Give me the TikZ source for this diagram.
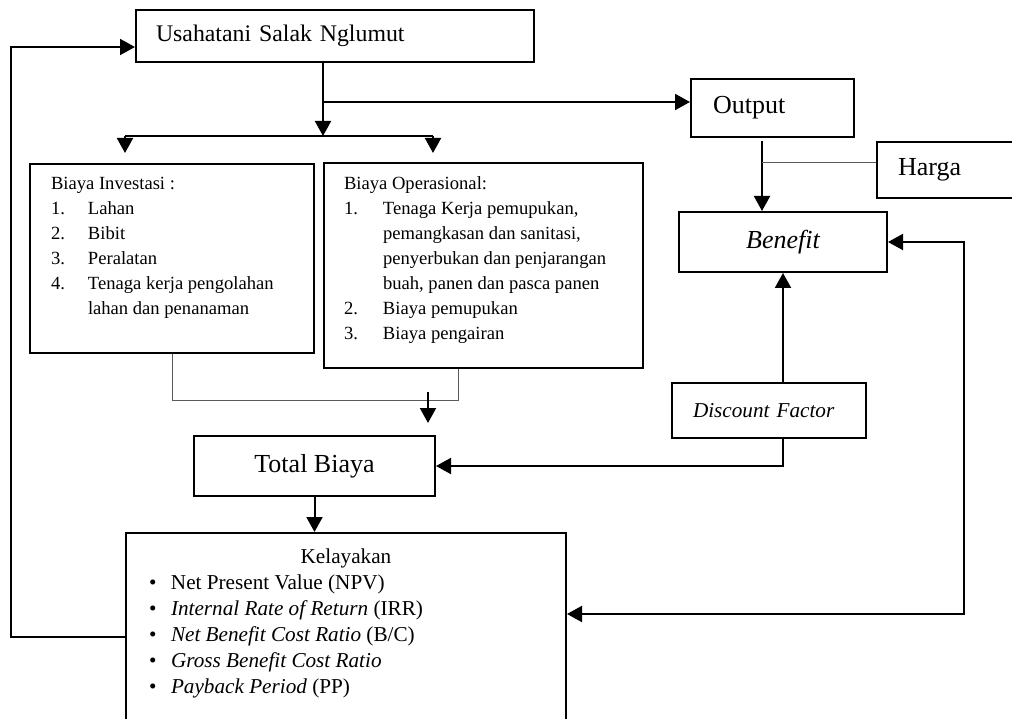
\documentclass[tikz,border=0pt]{standalone}
\usepackage{fontspec}
\setmainfont{Liberation Serif}
\usetikzlibrary{arrows.meta,positioning,calc}
\newcommand{\fsList}{\fontsize{18.6pt}{25pt}\selectfont}
\newcommand{\fsMid}{\fontsize{21.2pt}{26pt}\selectfont}
\newcommand{\fsTitle}{\fontsize{23.8pt}{28pt}\selectfont}
\newcommand{\fsBig}{\fontsize{26pt}{30pt}\selectfont}

\begin{document}
\begin{tikzpicture}[x=1pt,y=-1pt,>={Triangle[length=15pt,width=16pt]},
 box/.style={draw,line width=2pt,inner sep=0pt,anchor=north west},
 arr/.style={->,line width=2pt},
 ln/.style={line width=2pt},
 thinln/.style={line width=1pt,black!65}]
 \useasboundingbox (0,0) rectangle (1012,719);
 \node[box,minimum width=398pt,minimum height=52pt,text width=358pt,align=left,font=\fsTitle] (usaha) at (135,9) {Usahatani Salak Nglumut};
 \node[box,minimum width=163pt,minimum height=58pt,text width=119pt,align=left,font=\fsBig] (output) at (690,78) {Output};
 \node[box,minimum width=154pt,minimum height=56pt,text width=112pt,align=left,font=\fsBig] (harga) at (876,141) {Harga};
 \node[box,minimum width=208pt,minimum height=60pt,font=\fsBig\itshape] (benefit) at (678,211) {Benefit};
 \node[box,minimum width=284pt,minimum height=189pt,font=\fsList] (invest) at (29,163) {%
  \begin{tabular}{@{}p{37pt}@{}p{205pt}@{}}
  \multicolumn{2}{@{}l@{}}{Biaya Investasi :}\\
  1. & Lahan\\
  2. & Bibit\\
  3. & Peralatan\\
  4. & Tenaga kerja pengolahan\\
     & lahan dan penanaman\\[22pt]
  \end{tabular}};
 \node[box,minimum width=319pt,minimum height=205pt,font=\fsList] (oper) at (323,162) {%
  \begin{tabular}{@{}p{39pt}@{}p{240pt}@{}}
  \multicolumn{2}{@{}l@{}}{Biaya Operasional:}\\
  1. & Tenaga Kerja pemupukan,\\
     & pemangkasan dan sanitasi,\\
     & penyerbukan dan penjarangan\\
     & buah, panen dan pasca panen\\
  2. & Biaya pemupukan\\
  3. & Biaya pengairan\\[11pt]
  \end{tabular}};
 \node[box,minimum width=194pt,minimum height=55pt,text width=152pt,align=left,font=\fsMid\itshape] (disc) at (671,382) {Discount Factor};
 \node[box,minimum width=241pt,minimum height=60pt,font=\fsBig] (total) at (193,435) {Total Biaya};
 \node[box,minimum width=440pt,minimum height=208pt,font=\fsMid] (kelayakan) at (125,532) {%
  \begin{tabular}{@{}p{22pt}@{}p{372pt}@{}}
  \multicolumn{2}{@{}c@{}}{Kelayakan}\\
  \textbullet & Net Present Value (NPV)\\
  \textbullet & \textit{Internal Rate of Return} (IRR)\\
  \textbullet & \textit{Net Benefit Cost Ratio} (B/C)\\
  \textbullet & \textit{Gross Benefit Cost Ratio}\\
  \textbullet & \textit{Payback Period} (PP)\\[28pt]
  \end{tabular}};
 \coordinate (split) at (323,136);
 \coordinate (tee) at (323,102);
 \coordinate (brL) at (125,136);
 \coordinate (brR) at (433,136);
 \coordinate (oarr) at (762,141);
 \coordinate (merge) at (458,400);
 \coordinate (sumtop) at (428,392);
 \coordinate (rloop) at (964,614);
 \coordinate (lloop) at (11,0);
 \draw[arr] (usaha.south -| split)--(split);
 \draw[arr] (tee)--(tee -| output.west);
 \draw[ln] (brL)--(brR);
 \draw[arr,shorten >=10pt] (brL)--(brL |- invest.north);
 \draw[arr,shorten >=9pt] (brR)--(brR |- oper.north);
 \draw[arr] (oarr)--(oarr |- benefit.north);
 \draw[thinln] ([yshift=7pt]harga.west)--([yshift=7pt]harga.west -| oarr);
 \draw[thinln] (invest.south) |- (merge)--(merge |- oper.south);
 \draw[arr,shorten >=12pt] (sumtop)--(sumtop |- total.north);
 \draw[arr] (benefit.south |- disc.north)--(benefit.south);
 \draw[arr] (benefit.south |- disc.south) |- (total.east);
 \draw[arr] (total.south)--(total.south |- kelayakan.north);
 \draw[arr,<->] (benefit.east) -| (rloop)--(rloop -| kelayakan.east);
 \draw[arr] (kelayakan.west)--(kelayakan.west -| lloop) |- ([yshift=-11pt]usaha.west);
\end{tikzpicture}
\end{document}
